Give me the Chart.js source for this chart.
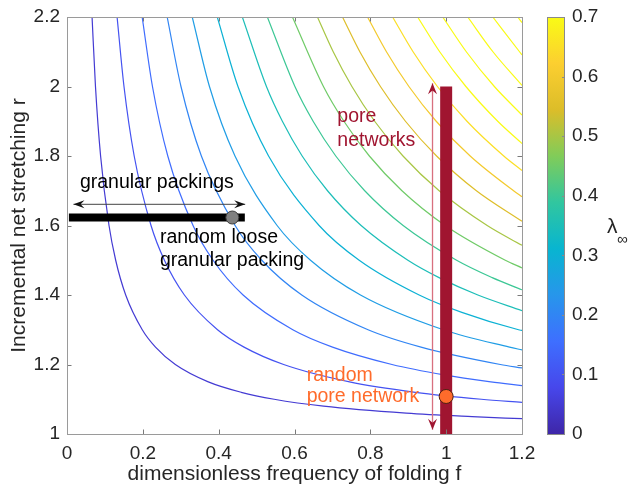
<!DOCTYPE html>
<html>
<head>
<meta charset="utf-8">
<script src="https://cdn.jsdelivr.net/npm/chart.js@4"></script>
<style>html,body{margin:0;background:#fff}canvas{display:block}</style>
</head>
<body>
<canvas id="c" width="632" height="489"></canvas>
<script>
// contour levels of lambda_inf, and the points as [f, r]
const levels = [0.05, 0.1, 0.15, 0.2, 0.25, 0.3, 0.35, 0.4, 0.45, 0.5, 0.55, 0.6, 0.65, 0.7, 0.75, 0.8, 0.85, 0.9];
const c05 = [[0.0661,2.2],[0.0751,2.0],[0.0886,1.8],[0.1108,1.6],[0.1284,1.5],[0.1548,1.4],[0.1985,1.3],[0.2334,1.25],[0.2857,1.2],[0.3726,1.15],[0.4596,1.12],[0.5464,1.1],[0.6766,1.08],[0.8945,1.06],[1.0684,1.05],[1.2,1.044]];
const c10 = [[0.1321,2.2],[0.1503,2.0],[0.1772,1.8],[0.2216,1.6],[0.2569,1.5],[0.3096,1.4],[0.397,1.3],[0.4669,1.25],[0.5714,1.2],[0.7452,1.15],[0.9191,1.12],[1.0929,1.1],[1.2,1.091]];
const c15 = [[0.1982,2.2],[0.2254,2.0],[0.2658,1.8],[0.3324,1.6],[0.3853,1.5],[0.4644,1.4],[0.5955,1.3],[0.7003,1.25],[0.8571,1.2],[0.995,1.17],[1.1177,1.15],[1.2,1.139]];
const c20 = [[0.2642,2.2],[0.3006,2.0],[0.3544,1.8],[0.4433,1.6],[0.5137,1.5],[0.6192,1.4],[0.794,1.3],[0.9337,1.25],[1.1429,1.2],[1.2,1.19]];
const c25 = [[0.3303,2.2],[0.3757,2.0],[0.443,1.8],[0.5541,1.6],[0.6422,1.5],[0.774,1.4],[0.9925,1.3],[1.1671,1.25],[1.2,1.242]];
const c30 = [[0.3963,2.2],[0.4509,2.0],[0.5316,1.8],[0.6649,1.6],[0.7706,1.5],[0.9288,1.4],[1.0413,1.35],[1.191,1.3],[1.2,1.298]];
const c35 = [[0.4624,2.2],[0.526,2.0],[0.568,1.9],[0.6202,1.8],[0.6871,1.7],[0.7757,1.6],[0.8991,1.5],[0.9812,1.45],[1.0836,1.4],[1.2,1.355]];
const c40 = [[0.5284,2.2],[0.6011,2.0],[0.6491,1.9],[0.7088,1.8],[0.7852,1.7],[0.8865,1.6],[1.0275,1.5],[1.1214,1.45],[1.2,1.415]];
const c45 = [[0.5945,2.2],[0.6763,2.0],[0.7303,1.9],[0.7974,1.8],[0.8834,1.7],[0.9973,1.6],[1.1559,1.5],[1.2,1.478]];
const c50 = [[0.6605,2.2],[0.7021,2.1],[0.7514,2.0],[0.8114,1.9],[0.8861,1.8],[0.9815,1.7],[1.1082,1.6],[1.2,1.543]];
const c55 = [[0.7266,2.2],[0.7723,2.1],[0.8266,2.0],[0.8926,1.9],[0.9747,1.8],[1.0797,1.7],[1.2,1.612]];
const c60 = [[0.7926,2.2],[0.8425,2.1],[0.9017,2.0],[0.9737,1.9],[1.0633,1.8],[1.1778,1.7],[1.2,1.683]];
const c65 = [[0.8587,2.2],[0.9127,2.1],[0.9769,2.0],[1.0549,1.9],[1.1519,1.8],[1.2,1.758]];
const c70 = [[0.9247,2.2],[0.9829,2.1],[1.052,2.0],[1.136,1.9],[1.2,1.836]];
const c75 = [[0.9908,2.2],[1.0531,2.1],[1.1271,2.0],[1.2,1.918]];
const c80 = [[1.0568,2.2],[1.1233,2.1],[1.2,2.003]];
const c85 = [[1.1229,2.2],[1.1935,2.1],[1.2,2.091]];
const c90 = [[1.1889,2.2],[1.2,2.184]];
const contours = [c05, c10, c15, c20, c25, c30, c35, c40, c45, c50, c55, c60, c65, c70, c75, c80, c85, c90];

// markers
const granularBarF = [0.005, 0.469], granularR = 1.623;
const granularArrowF = [0.017, 0.47], granularArrowR = 1.661;
const looseF = 0.436, looseR = 1.623;
const poreBarF = 1.0, poreBarR = [1.0, 2.0];
const poreArrowF = 0.964, poreArrowR = [1.012, 2.009];
const randomPoreF = 1.0, randomPoreR = 1.108;
const cbMax = 0.7;

// parula, sampled at 10 stops
const parula = [[62,38,168],[71,71,235],[62,111,255],[39,150,235],[8,181,208],[49,198,159],[129,204,89],[220,189,41],[252,207,48],[249,251,21]];
function parulaAt(t) {
  t = Math.max(0, Math.min(1, t)) * (parula.length - 1);
  const i = Math.min(Math.floor(t), parula.length - 2), u = t - i;
  const a = parula[i], b = parula[i + 1];
  return `rgb(${a.map((v, k) => Math.round(v + (b[k] - v) * u)).join(',')})`;
}

const ink = '#262626', poreRed = '#a01530', orange = '#ff6b2b';
const FONT = '"Liberation Sans", Arial, Helvetica, sans-serif';
const trim = v => String(Number(v.toFixed(2)));
const noPad = s => { s.paddingTop = 0; s.paddingBottom = 0; };

const pt = arr => arr.map(p => ({ x: p[0], y: p[1] }));
const datasets = contours.map((c, i) => ({
  data: pt(c), showLine: true, pointRadius: 0, borderWidth: 1.2,
  borderColor: parulaAt(levels[i] / cbMax), cubicInterpolationMode: 'monotone', order: 5
}));
datasets.push(
  { data: poreBarR.map(r => ({ x: poreBarF, y: r })), showLine: true, pointRadius: 0, borderWidth: 12, borderColor: poreRed, borderCapStyle: 'butt', order: 3 },
  { data: poreArrowR.map(r => ({ x: poreArrowF, y: r })), showLine: true, pointRadius: 0, borderWidth: 1.3, borderColor: '#d8707f', order: 3, clip: false },
  { data: granularBarF.map(f => ({ x: f, y: granularR })), showLine: true, pointRadius: 0, borderWidth: 8, borderColor: '#000', borderCapStyle: 'butt', order: 3 },
  { data: granularArrowF.map(f => ({ x: f, y: granularArrowR })), showLine: true, pointRadius: 0, borderWidth: 1, borderColor: '#444', order: 3 },
  { data: [{ x: looseF, y: looseR }], pointRadius: 6.5, backgroundColor: '#808080', borderColor: '#3a3a3a', borderWidth: 1, order: 1 },
  { data: [{ x: randomPoreF, y: randomPoreR }], pointRadius: 7, backgroundColor: orange, borderColor: '#4a2010', borderWidth: 1, order: 1, clip: false }
);

function head(ctx, x, y, dx, dy, len, half, color) {
  const bx = x - dx * len, by = y - dy * len, px = -dy, py = dx;
  ctx.beginPath();
  ctx.moveTo(x, y);
  ctx.lineTo(bx + px * half, by + py * half);
  ctx.lineTo(x - dx * len * 0.65, y - dy * len * 0.65);
  ctx.lineTo(bx - px * half, by - py * half);
  ctx.closePath();
  ctx.fillStyle = color;
  ctx.fill();
}

const decor = {
  id: 'decor',
  afterDraw(chart) {
    const { ctx, chartArea: a, scales: { x, y, cb } } = chart;
    ctx.save();
    // inward ticks on all four sides
    ctx.strokeStyle = '#7a7a7a'; ctx.lineWidth = 1;
    ctx.beginPath();
    x.ticks.forEach(t => {
      const px = Math.round(x.getPixelForValue(t.value)) + 0.5;
      ctx.moveTo(px, a.bottom); ctx.lineTo(px, a.bottom - 4.5);
      ctx.moveTo(px, a.top); ctx.lineTo(px, a.top + 4.5);
    });
    y.ticks.forEach(t => {
      const py = Math.round(y.getPixelForValue(t.value)) + 0.5;
      ctx.moveTo(a.left, py); ctx.lineTo(a.left + 4.5, py);
      ctx.moveTo(a.right, py); ctx.lineTo(a.right - 4.5, py);
    });
    ctx.stroke();
    ctx.strokeStyle = '#9a9a9a';
    ctx.strokeRect(Math.round(a.left) + 0.5, Math.round(a.top) + 0.5, Math.round(a.right - a.left), Math.round(a.bottom - a.top));

    // arrow heads
    const gy = y.getPixelForValue(granularArrowR);
    head(ctx, x.getPixelForValue(granularArrowF[0]), gy, -1, 0, 11, 4, '#111');
    head(ctx, x.getPixelForValue(granularArrowF[1]), gy, 1, 0, 11, 4, '#111');
    const px = x.getPixelForValue(poreArrowF);
    head(ctx, px, y.getPixelForValue(poreArrowR[1]), 0, -1, 11, 4.5, poreRed);
    head(ctx, px, y.getPixelForValue(poreArrowR[0]), 0, 1, 11, 4.5, poreRed);

    // annotations
    ctx.font = `19.5px ${FONT}`; ctx.textBaseline = 'middle'; ctx.textAlign = 'left';
    const text = (s, f, r, c) => { ctx.fillStyle = c; ctx.fillText(s, x.getPixelForValue(f), y.getPixelForValue(r)); };
    text('granular packings', 0.034, 1.722, '#000');
    text('random loose', 0.245, 1.565, '#000');
    text('granular packing', 0.245, 1.5, '#000');
    text('pore', 0.713, 1.912, poreRed);
    text('networks', 0.713, 1.845, poreRed);
    text('random', 0.632, 1.169, orange);
    text('pore network', 0.632, 1.107, orange);

    // colourbar
    const top = cb.getPixelForValue(cbMax), bot = cb.getPixelForValue(0), cx0 = 547, cx1 = 565;
    const g = ctx.createLinearGradient(0, bot, 0, top);
    parula.forEach((c, i) => g.addColorStop(i / (parula.length - 1), `rgb(${c.join(',')})`));
    ctx.fillStyle = g;
    ctx.fillRect(cx0, top, cx1 - cx0, bot - top);
    ctx.strokeStyle = '#8a8a8a';
    ctx.strokeRect(cx0 + 0.5, Math.round(top) + 0.5, cx1 - cx0 - 1, Math.round(bot - top));
    ctx.beginPath();
    cb.ticks.forEach(t => {
      const py = Math.round(cb.getPixelForValue(t.value)) + 0.5;
      ctx.moveTo(cx1, py); ctx.lineTo(cx1 - 3, py);
    });
    ctx.stroke();

    // lambda_inf label
    ctx.fillStyle = ink;
    ctx.font = `21px ${FONT}`;
    ctx.fillText('λ', 607, 227);
    ctx.font = `15px ${FONT}`;
    ctx.fillText('∞', 617, 240);
    ctx.restore();
  }
};

new Chart(document.getElementById('c'), {
  type: 'scatter',
  data: { datasets },
  options: {
    responsive: false, animation: false,
    layout: { padding: { top: 17, right: 0, bottom: 0, left: 0 } },
    plugins: { legend: { display: false }, tooltip: { enabled: false } },
    scales: {
      x: {
        type: 'linear', min: 0, max: 1.2,
        ticks: { stepSize: 0.2, color: ink, font: { size: 19, family: FONT }, padding: 8, maxRotation: 0, callback: trim },
        grid: { display: false, drawTicks: false }, border: { display: false },
        title: { display: true, text: 'dimensionless frequency of folding f', color: ink, font: { size: 21, family: FONT }, padding: { top: 0, bottom: 2 } },
        afterFit: s => { s.height = 55; s.paddingLeft = 0; s.paddingRight = 0; }
      },
      y: {
        type: 'linear', min: 1, max: 2.2,
        ticks: { stepSize: 0.2, color: ink, font: { size: 19, family: FONT }, padding: 7, callback: trim },
        grid: { display: false, drawTicks: false }, border: { display: false },
        title: { display: true, text: 'Incremental net stretching r', color: ink, font: { size: 21, family: FONT }, padding: { top: 7, bottom: 0 } },
        afterFit: s => { s.width = 67; noPad(s); }
      },
      cb: {
        type: 'linear', position: 'right', min: 0, max: cbMax,
        ticks: { stepSize: 0.1, color: ink, font: { size: 19, family: FONT }, padding: 50, callback: trim },
        grid: { display: false, drawTicks: false }, border: { display: false },
        afterFit: s => { s.width = 110; noPad(s); }
      }
    }
  },
  plugins: [decor]
});
</script>
</body>
</html>
